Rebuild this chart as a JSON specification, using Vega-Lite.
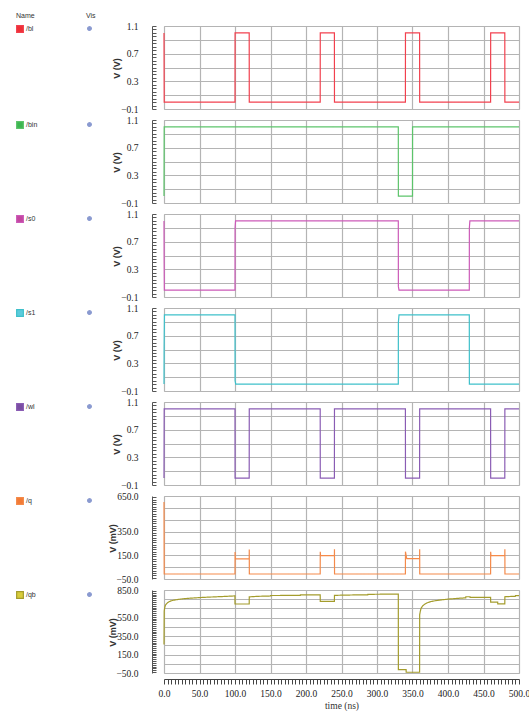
{
  "$schema": "https://vega.github.io/schema/vega-lite/v6.json",
  "padding": {"left": 15, "top": 11, "right": 0, "bottom": 0},
  "background": "white",
  "config": {
    "view": {"stroke": "#c4c4c4", "strokeWidth": 1},
    "axis": {"labelFont": "Liberation Serif", "labelFontSize": 9.5, "labelColor": "#222222", "titleFont": "Liberation Sans", "titleFontSize": 9, "titleFontWeight": "bold", "titleColor": "#333333", "gridColor": "#b4b4b4", "gridWidth": 1.2},
    "legend": {"labelFont": "Liberation Sans", "labelFontSize": 7, "labelColor": "#333333", "titleFont": "Liberation Sans", "titleFontSize": 7, "titleFontWeight": "normal", "titleColor": "#333333", "padding": 0},
    "line": {"strokeWidth": 1.2}
  },
  "datasets": {
    "bl": [{"t":0,"v":1.0},{"t":0.3,"v":0.0},{"t":100,"v":0.0},{"t":100.1,"v":1.0},{"t":120,"v":1.0},{"t":120.1,"v":0.0},{"t":220,"v":0.0},{"t":220.1,"v":1.0},{"t":240,"v":1.0},{"t":240.1,"v":0.0},{"t":340,"v":0.0},{"t":340.1,"v":1.0},{"t":360,"v":1.0},{"t":360.1,"v":0.0},{"t":460,"v":0.0},{"t":460.1,"v":1.0},{"t":480,"v":1.0},{"t":480.1,"v":0.0},{"t":500,"v":0.0}],
    "bin": [{"t":0,"v":0.0},{"t":0.3,"v":1.0},{"t":330,"v":1.0},{"t":330.1,"v":0.0},{"t":350,"v":0.0},{"t":350.1,"v":1.0},{"t":500,"v":1.0}],
    "s0": [{"t":0,"v":1.0},{"t":0.2,"v":0.45},{"t":0.5,"v":0.0},{"t":100,"v":0.0},{"t":100.1,"v":0.9},{"t":100.8,"v":1.0},{"t":330,"v":1.0},{"t":330.1,"v":0.05},{"t":331,"v":0.0},{"t":430,"v":0.0},{"t":430.1,"v":0.9},{"t":430.8,"v":1.0},{"t":500,"v":1.0}],
    "s1": [{"t":0,"v":0.0},{"t":0.2,"v":0.55},{"t":0.6,"v":1.0},{"t":100,"v":1.0},{"t":100.1,"v":0.05},{"t":101,"v":0.0},{"t":330,"v":0.0},{"t":330.1,"v":0.89},{"t":331,"v":1.0},{"t":430,"v":1.0},{"t":430.1,"v":0.0},{"t":500,"v":0.0}],
    "wl": [{"t":0,"v":0.0},{"t":0.3,"v":1.0},{"t":100,"v":1.0},{"t":100.1,"v":0.0},{"t":120,"v":0.0},{"t":120.1,"v":1.0},{"t":220,"v":1.0},{"t":220.1,"v":0.0},{"t":240,"v":0.0},{"t":240.1,"v":1.0},{"t":340,"v":1.0},{"t":340.1,"v":0.0},{"t":360,"v":0.0},{"t":360.1,"v":1.0},{"t":460,"v":1.0},{"t":460.1,"v":0.0},{"t":480,"v":0.0},{"t":480.1,"v":1.0},{"t":500,"v":1.0}],
    "q": [{"t":0,"v":600},{"t":0.3,"v":-8},{"t":100,"v":-8},{"t":100.1,"v":178},{"t":100.5,"v":120},{"t":120,"v":120},{"t":120.1,"v":198},{"t":120.2,"v":-8},{"t":220,"v":-8},{"t":220.1,"v":180},{"t":220.5,"v":147},{"t":240,"v":147},{"t":240.1,"v":200},{"t":240.2,"v":-8},{"t":340,"v":-8},{"t":340.1,"v":180},{"t":341.5,"v":133},{"t":342,"v":122},{"t":360,"v":122},{"t":360.1,"v":200},{"t":360.2,"v":-8},{"t":460,"v":-8},{"t":460.1,"v":180},{"t":460.5,"v":147},{"t":480,"v":147},{"t":480.1,"v":200},{"t":480.2,"v":-8},{"t":500,"v":-8}],
    "qb": [{"t":0,"v":260},{"t":0.3,"v":620},{"t":1,"v":660},{"t":2,"v":685},{"t":3.5,"v":700},{"t":5,"v":712},{"t":7,"v":722},{"t":10,"v":732},{"t":14,"v":740},{"t":20,"v":748},{"t":27,"v":755},{"t":35,"v":760},{"t":45,"v":765},{"t":55,"v":770},{"t":70,"v":775},{"t":85,"v":780},{"t":99.9,"v":786},{"t":100,"v":698},{"t":120,"v":698},{"t":120.1,"v":776},{"t":135,"v":782},{"t":150,"v":785},{"t":150.1,"v":790},{"t":192,"v":792},{"t":192.1,"v":797},{"t":220,"v":798},{"t":220.1,"v":726},{"t":240,"v":726},{"t":240.1,"v":792},{"t":265,"v":796},{"t":287,"v":798},{"t":287.1,"v":803},{"t":330,"v":806},{"t":330.1,"v":-14},{"t":341,"v":-14},{"t":341.1,"v":-42},{"t":360,"v":-42},{"t":360.1,"v":580},{"t":361,"v":620},{"t":362,"v":650},{"t":364,"v":675},{"t":367,"v":695},{"t":371,"v":712},{"t":376,"v":725},{"t":383,"v":735},{"t":392,"v":744},{"t":401,"v":752},{"t":415,"v":760},{"t":425,"v":765},{"t":425.1,"v":777},{"t":431,"v":777},{"t":431.1,"v":770},{"t":460,"v":770},{"t":460.1,"v":718},{"t":470,"v":718},{"t":470.1,"v":700},{"t":480,"v":700},{"t":480.1,"v":777},{"t":495,"v":782},{"t":495.1,"v":790},{"t":500,"v":790}]
  },
  "spacing": 0,
  "resolve": {"scale": {"color": "independent", "strokeDash": "independent", "y": "independent"}, "legend": {"color": "independent", "strokeDash": "independent"}},
  "vconcat": [
    {
      "width": 355, "height": 83,
      "data": {"name": "bl"},
      "resolve": {"axis": {"x": "independent", "y": "independent"}},
      "layer": [
        {"mark": {"type": "line"},
         "encoding": {
           "x": {"field": "t", "type": "quantitative", "scale": {"domain": [0, 500], "nice": false, "zero": false}, "axis": {"values": [0,50,100,150,200,250,300,350,400,450,500], "grid": true, "labels": false, "ticks": false, "domain": false, "title": null, "orient": "bottom"}},
           "y": {"field": "v", "type": "quantitative", "scale": {"domain": [-0.1, 1.1], "nice": false, "zero": false}, "axis": {"orient": "left", "values": [-0.1,0.1,0.3,0.5,0.7,0.9,1.1], "labelExpr": "round((datum.value+0.1)*10)%4==0 ? format(datum.value,'.1f') : ''", "grid": true, "ticks": false, "domain": false, "labelPadding": 26, "title": "V (V)", "titleX": -48, "titleY": 42, "titleAngle": -90, "titleBaseline": "middle", "titleAlign": "center"}},
           "color": {"datum": "/bl", "type": "nominal", "scale": {"range": ["#f2404e"]}, "legend": {"orient": "none", "legendX": -148, "legendY": -14, "title": "Name", "titlePadding": 6, "symbolType": "square", "symbolSize": 45, "symbolFillColor": "#ee2f36", "symbolStrokeColor": "#ee2f36", "labelOffset": 2}},
           "strokeDash": {"datum": "vis", "type": "nominal", "scale": {"range": [[1, 0]]}, "legend": {"orient": "none", "legendX": -78, "legendY": -14, "title": "Vis", "titlePadding": 6, "symbolType": "circle", "symbolSize": 14, "symbolFillColor": "#8a9ad0", "symbolStrokeColor": "#8a9ad0", "labelExpr": "''"}}
         }},
        {"mark": {"type": "line", "strokeOpacity": 0},
         "encoding": {
           "x": {"field": "t", "type": "quantitative", "axis": null},
           "y": {"field": "v", "type": "quantitative", "axis": {"orient": "left", "tickCount": 30, "grid": false, "labels": false, "ticks": true, "tickSize": -4, "tickColor": "#555555", "domain": true, "domainColor": "#555555", "offset": 12, "title": null}}
         }}
      ]
    },
    {
      "width": 355, "height": 83,
      "data": {"name": "bin"},
      "resolve": {"axis": {"x": "independent", "y": "independent"}},
      "layer": [
        {"mark": {"type": "line"},
         "encoding": {
           "x": {"field": "t", "type": "quantitative", "scale": {"domain": [0, 500], "nice": false, "zero": false}, "axis": {"values": [0,50,100,150,200,250,300,350,400,450,500], "grid": true, "labels": false, "ticks": false, "domain": false, "title": null, "orient": "bottom"}},
           "y": {"field": "v", "type": "quantitative", "scale": {"domain": [-0.1, 1.1], "nice": false, "zero": false}, "axis": {"orient": "left", "values": [-0.1,0.1,0.3,0.5,0.7,0.9,1.1], "labelExpr": "round((datum.value+0.1)*10)%4==0 ? format(datum.value,'.1f') : ''", "grid": true, "ticks": false, "domain": false, "labelPadding": 26, "title": "V (V)", "titleX": -48, "titleY": 42, "titleAngle": -90, "titleBaseline": "middle", "titleAlign": "center"}},
           "color": {"datum": "/bin", "type": "nominal", "scale": {"range": ["#5cc46a"]}, "legend": {"orient": "none", "legendX": -148, "legendY": 1, "title": null, "symbolType": "square", "symbolSize": 45, "symbolFillColor": "#3cb550", "symbolStrokeColor": "#3cb550", "labelOffset": 2}},
           "strokeDash": {"datum": "vis", "type": "nominal", "scale": {"range": [[1, 0]]}, "legend": {"orient": "none", "legendX": -78, "legendY": 1, "title": null, "symbolType": "circle", "symbolSize": 14, "symbolFillColor": "#8a9ad0", "symbolStrokeColor": "#8a9ad0", "labelExpr": "''"}}
         }},
        {"mark": {"type": "line", "strokeOpacity": 0},
         "encoding": {
           "x": {"field": "t", "type": "quantitative", "axis": null},
           "y": {"field": "v", "type": "quantitative", "axis": {"orient": "left", "tickCount": 30, "grid": false, "labels": false, "ticks": true, "tickSize": -4, "tickColor": "#555555", "domain": true, "domainColor": "#555555", "offset": 12, "title": null}}
         }}
      ]
    },
    {
      "width": 355, "height": 83,
      "data": {"name": "s0"},
      "resolve": {"axis": {"x": "independent", "y": "independent"}},
      "layer": [
        {"mark": {"type": "line"},
         "encoding": {
           "x": {"field": "t", "type": "quantitative", "scale": {"domain": [0, 500], "nice": false, "zero": false}, "axis": {"values": [0,50,100,150,200,250,300,350,400,450,500], "grid": true, "labels": false, "ticks": false, "domain": false, "title": null, "orient": "bottom"}},
           "y": {"field": "v", "type": "quantitative", "scale": {"domain": [-0.1, 1.1], "nice": false, "zero": false}, "axis": {"orient": "left", "values": [-0.1,0.1,0.3,0.5,0.7,0.9,1.1], "labelExpr": "round((datum.value+0.1)*10)%4==0 ? format(datum.value,'.1f') : ''", "grid": true, "ticks": false, "domain": false, "labelPadding": 26, "title": "V (V)", "titleX": -48, "titleY": 42, "titleAngle": -90, "titleBaseline": "middle", "titleAlign": "center"}},
           "color": {"datum": "/s0", "type": "nominal", "scale": {"range": ["#cc5ab8"]}, "legend": {"orient": "none", "legendX": -148, "legendY": 1, "title": null, "symbolType": "square", "symbolSize": 45, "symbolFillColor": "#c2469f", "symbolStrokeColor": "#c2469f", "labelOffset": 2}},
           "strokeDash": {"datum": "vis", "type": "nominal", "scale": {"range": [[1, 0]]}, "legend": {"orient": "none", "legendX": -78, "legendY": 1, "title": null, "symbolType": "circle", "symbolSize": 14, "symbolFillColor": "#8a9ad0", "symbolStrokeColor": "#8a9ad0", "labelExpr": "''"}}
         }},
        {"mark": {"type": "line", "strokeOpacity": 0},
         "encoding": {
           "x": {"field": "t", "type": "quantitative", "axis": null},
           "y": {"field": "v", "type": "quantitative", "axis": {"orient": "left", "tickCount": 30, "grid": false, "labels": false, "ticks": true, "tickSize": -4, "tickColor": "#555555", "domain": true, "domainColor": "#555555", "offset": 12, "title": null}}
         }}
      ]
    },
    {
      "width": 355, "height": 83,
      "data": {"name": "s1"},
      "resolve": {"axis": {"x": "independent", "y": "independent"}},
      "layer": [
        {"mark": {"type": "line"},
         "encoding": {
           "x": {"field": "t", "type": "quantitative", "scale": {"domain": [0, 500], "nice": false, "zero": false}, "axis": {"values": [0,50,100,150,200,250,300,350,400,450,500], "grid": true, "labels": false, "ticks": false, "domain": false, "title": null, "orient": "bottom"}},
           "y": {"field": "v", "type": "quantitative", "scale": {"domain": [-0.1, 1.1], "nice": false, "zero": false}, "axis": {"orient": "left", "values": [-0.1,0.1,0.3,0.5,0.7,0.9,1.1], "labelExpr": "round((datum.value+0.1)*10)%4==0 ? format(datum.value,'.1f') : ''", "grid": true, "ticks": false, "domain": false, "labelPadding": 26, "title": "V (V)", "titleX": -48, "titleY": 42, "titleAngle": -90, "titleBaseline": "middle", "titleAlign": "center"}},
           "color": {"datum": "/s1", "type": "nominal", "scale": {"range": ["#3ec0ca"]}, "legend": {"orient": "none", "legendX": -148, "legendY": 1, "title": null, "symbolType": "square", "symbolSize": 45, "symbolFillColor": "#5ccbdc", "symbolStrokeColor": "#5ccbdc", "labelOffset": 2}},
           "strokeDash": {"datum": "vis", "type": "nominal", "scale": {"range": [[1, 0]]}, "legend": {"orient": "none", "legendX": -78, "legendY": 1, "title": null, "symbolType": "circle", "symbolSize": 14, "symbolFillColor": "#8a9ad0", "symbolStrokeColor": "#8a9ad0", "labelExpr": "''"}}
         }},
        {"mark": {"type": "line", "strokeOpacity": 0},
         "encoding": {
           "x": {"field": "t", "type": "quantitative", "axis": null},
           "y": {"field": "v", "type": "quantitative", "axis": {"orient": "left", "tickCount": 30, "grid": false, "labels": false, "ticks": true, "tickSize": -4, "tickColor": "#555555", "domain": true, "domainColor": "#555555", "offset": 12, "title": null}}
         }}
      ]
    },
    {
      "width": 355, "height": 83,
      "data": {"name": "wl"},
      "resolve": {"axis": {"x": "independent", "y": "independent"}},
      "layer": [
        {"mark": {"type": "line"},
         "encoding": {
           "x": {"field": "t", "type": "quantitative", "scale": {"domain": [0, 500], "nice": false, "zero": false}, "axis": {"values": [0,50,100,150,200,250,300,350,400,450,500], "grid": true, "labels": false, "ticks": false, "domain": false, "title": null, "orient": "bottom"}},
           "y": {"field": "v", "type": "quantitative", "scale": {"domain": [-0.1, 1.1], "nice": false, "zero": false}, "axis": {"orient": "left", "values": [-0.1,0.1,0.3,0.5,0.7,0.9,1.1], "labelExpr": "round((datum.value+0.1)*10)%4==0 ? format(datum.value,'.1f') : ''", "grid": true, "ticks": false, "domain": false, "labelPadding": 26, "title": "V (V)", "titleX": -48, "titleY": 42, "titleAngle": -90, "titleBaseline": "middle", "titleAlign": "center"}},
           "color": {"datum": "/wl", "type": "nominal", "scale": {"range": ["#8a5cb4"]}, "legend": {"orient": "none", "legendX": -148, "legendY": 1, "title": null, "symbolType": "square", "symbolSize": 45, "symbolFillColor": "#7a4ea2", "symbolStrokeColor": "#7a4ea2", "labelOffset": 2}},
           "strokeDash": {"datum": "vis", "type": "nominal", "scale": {"range": [[1, 0]]}, "legend": {"orient": "none", "legendX": -78, "legendY": 1, "title": null, "symbolType": "circle", "symbolSize": 14, "symbolFillColor": "#8a9ad0", "symbolStrokeColor": "#8a9ad0", "labelExpr": "''"}}
         }},
        {"mark": {"type": "line", "strokeOpacity": 0},
         "encoding": {
           "x": {"field": "t", "type": "quantitative", "axis": null},
           "y": {"field": "v", "type": "quantitative", "axis": {"orient": "left", "tickCount": 30, "grid": false, "labels": false, "ticks": true, "tickSize": -4, "tickColor": "#555555", "domain": true, "domainColor": "#555555", "offset": 12, "title": null}}
         }}
      ]
    },
    {
      "width": 355, "height": 83,
      "data": {"name": "q"},
      "resolve": {"axis": {"x": "independent", "y": "independent"}},
      "layer": [
        {"mark": {"type": "line"},
         "encoding": {
           "x": {"field": "t", "type": "quantitative", "scale": {"domain": [0, 500], "nice": false, "zero": false}, "axis": {"values": [0,50,100,150,200,250,300,350,400,450,500], "grid": true, "labels": false, "ticks": false, "domain": false, "title": null, "orient": "bottom"}},
           "y": {"field": "v", "type": "quantitative", "scale": {"domain": [-50, 650], "nice": false, "zero": false}, "axis": {"orient": "left", "values": [-50,50,150,250,350,450,550,650], "labelExpr": "indexof([-50,150,350,650], datum.value) >= 0 ? format(datum.value,'.1f') : ''", "grid": true, "ticks": false, "domain": false, "labelPadding": 26, "title": "V (mV)", "titleX": -52, "titleY": 42, "titleAngle": -90, "titleBaseline": "middle", "titleAlign": "center"}},
           "color": {"datum": "/q", "type": "nominal", "scale": {"range": ["#f48a4a"]}, "legend": {"orient": "none", "legendX": -148, "legendY": 1, "title": null, "symbolType": "square", "symbolSize": 45, "symbolFillColor": "#f27a35", "symbolStrokeColor": "#f27a35", "labelOffset": 2}},
           "strokeDash": {"datum": "vis", "type": "nominal", "scale": {"range": [[1, 0]]}, "legend": {"orient": "none", "legendX": -78, "legendY": 1, "title": null, "symbolType": "circle", "symbolSize": 14, "symbolFillColor": "#8a9ad0", "symbolStrokeColor": "#8a9ad0", "labelExpr": "''"}}
         }},
        {"mark": {"type": "line", "strokeOpacity": 0},
         "encoding": {
           "x": {"field": "t", "type": "quantitative", "axis": null},
           "y": {"field": "v", "type": "quantitative", "axis": {"orient": "left", "tickCount": 30, "grid": false, "labels": false, "ticks": true, "tickSize": -4, "tickColor": "#555555", "domain": true, "domainColor": "#555555", "offset": 12, "title": null}}
         }}
      ]
    },
    {
      "width": 355, "height": 83,
      "data": {"name": "qb"},
      "resolve": {"axis": {"x": "independent", "y": "independent"}},
      "layer": [
        {"mark": {"type": "line"},
         "encoding": {
           "x": {"field": "t", "type": "quantitative", "scale": {"domain": [0, 500], "nice": false, "zero": false}, "axis": {"values": [0,50,100,150,200,250,300,350,400,450,500], "grid": true, "labels": false, "ticks": false, "domain": false, "title": null, "orient": "bottom"}},
           "y": {"field": "v", "type": "quantitative", "scale": {"domain": [-50, 850], "nice": false, "zero": false}, "axis": {"orient": "left", "values": [-50,50,150,250,350,450,550,650,750,850], "labelExpr": "indexof([-50,150,350,550,850], datum.value) >= 0 ? format(datum.value,'.1f') : ''", "grid": true, "ticks": false, "domain": false, "labelPadding": 26, "title": "V (mV)", "titleX": -52, "titleY": 42, "titleAngle": -90, "titleBaseline": "middle", "titleAlign": "center"}},
           "color": {"datum": "/qb", "type": "nominal", "scale": {"range": ["#a49c2c"]}, "legend": {"orient": "none", "legendX": -148, "legendY": 1, "title": null, "symbolType": "square", "symbolSize": 45, "symbolFillColor": "#d8cc3c", "symbolStrokeColor": "#d8cc3c", "labelOffset": 2}},
           "strokeDash": {"datum": "vis", "type": "nominal", "scale": {"range": [[1, 0]]}, "legend": {"orient": "none", "legendX": -78, "legendY": 1, "title": null, "symbolType": "circle", "symbolSize": 14, "symbolFillColor": "#8a9ad0", "symbolStrokeColor": "#8a9ad0", "labelExpr": "''"}}
         }},
        {"mark": {"type": "line", "strokeOpacity": 0},
         "encoding": {
           "x": {"field": "t", "type": "quantitative", "axis": {"orient": "bottom", "tickCount": 100, "grid": false, "ticks": true, "tickSize": 5, "tickColor": "#444444", "domain": true, "domainColor": "#444444", "offset": 6, "labelExpr": "datum.value % 50 == 0 ? format(datum.value,'.1f') : ''", "labelOverlap": false, "labelFlush": false, "labelPadding": 4, "title": "time (ns)", "titleFont": "Liberation Serif", "titleFontSize": 9.5, "titleFontWeight": "normal", "titlePadding": 3}},
           "y": {"field": "v", "type": "quantitative", "axis": {"orient": "left", "tickCount": 30, "grid": false, "labels": false, "ticks": true, "tickSize": -4, "tickColor": "#555555", "domain": true, "domainColor": "#555555", "offset": 12, "title": null}}
         }}
      ]
    }
  ]
}
